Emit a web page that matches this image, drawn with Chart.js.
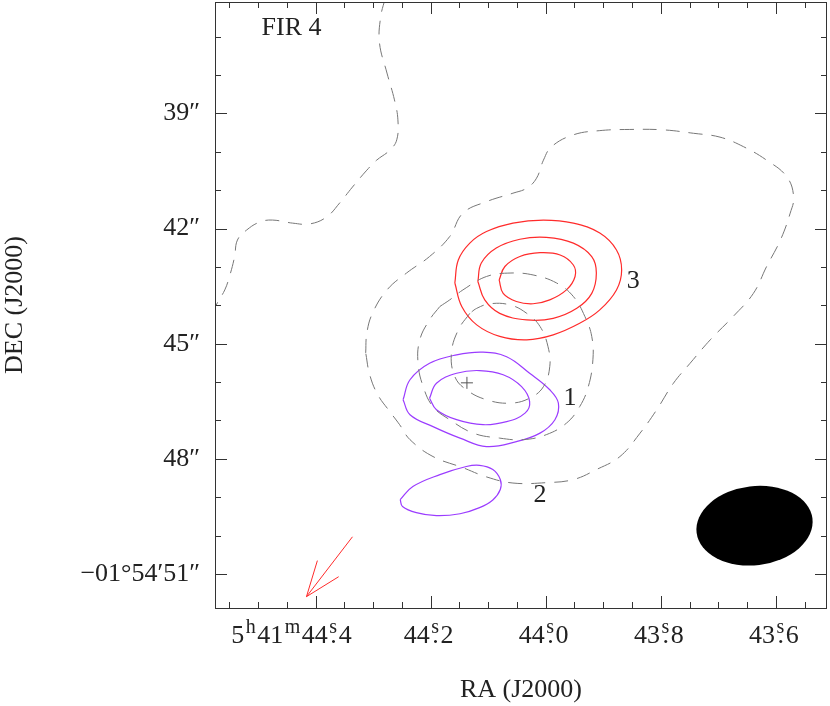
<!DOCTYPE html>
<html>
<head>
<meta charset="utf-8">
<script src="https://cdn.jsdelivr.net/npm/chart.js@4.4.0/dist/chart.umd.min.js"></script>
<style>
  html, body { margin: 0; padding: 0; background: #fff; }
  #map { display: block; }
</style>
</head>
<body>
<canvas id="map" width="830" height="706"></canvas>
<script>
// axes: RA in seconds of time (5h41m..), DEC in arcsec of -01d54m..
const raMin = 43.511, raMax = 44.575;
const decMin = 36.1, decMax = 51.885;
const raTicks = [44.4, 44.2, 44.0, 43.8, 43.6];
const raTickLabels = ['5^h41^m44^s.4', '44^s.2', '44^s.0', '43^s.8', '43^s.6'];
const decTicks = [39, 42, 45, 48, 51];
const decTickLabels = ['39″', '42″', '45″', '48″', '−01°54′51″'];

// dust / continuum contours (dashed grey), [RA s, DEC ″]
const dustA = [[44.279, 36.0], [44.287, 36.49], [44.289, 37.17], [44.276, 37.95], [44.263, 38.65],
  [44.257, 39.17], [44.259, 39.69], [44.271, 39.96], [44.294, 40.22], [44.311, 40.48],
  [44.336, 40.92], [44.358, 41.33], [44.381, 41.70], [44.410, 41.88], [44.440, 41.86],
  [44.475, 41.78], [44.497, 41.83], [44.520, 42.04], [44.536, 42.30], [44.541, 42.74],
  [44.550, 43.26], [44.558, 43.60], [44.571, 43.94], [44.581, 44.25]];
const dustB = [[44.313, 45.24], [44.311, 44.72], [44.301, 44.20], [44.276, 43.60], [44.242, 43.16],
  [44.202, 42.73], [44.167, 42.21], [44.144, 41.60], [44.103, 41.30], [44.057, 41.08],
  [44.033, 40.95], [44.016, 40.69], [44.004, 40.22], [43.990, 39.87], [43.952, 39.56],
  [43.906, 39.45], [43.854, 39.42], [43.796, 39.43], [43.743, 39.52], [43.697, 39.62],
  [43.656, 39.87], [43.616, 40.22], [43.581, 40.65], [43.569, 41.17], [43.575, 41.60],
  [43.592, 42.30], [43.616, 42.99], [43.639, 43.69], [43.674, 44.29], [43.714, 44.90],
  [43.749, 45.51], [43.778, 46.03], [43.807, 46.72], [43.836, 47.33], [43.871, 47.94],
  [43.912, 48.28], [43.952, 48.54], [43.999, 48.62], [44.057, 48.63], [44.103, 48.47],
  [44.144, 48.23], [44.196, 47.94], [44.236, 47.50], [44.254, 47.11], [44.271, 46.77],
  [44.292, 46.33], [44.306, 45.81], [44.313, 45.24]];
const dustC = [[44.184, 44.03], [44.202, 44.38], [44.219, 44.90], [44.222, 45.51], [44.213, 46.12],
  [44.196, 46.64], [44.167, 46.98], [44.126, 47.33], [44.080, 47.46], [44.039, 47.50],
  [43.999, 47.37], [43.964, 47.07], [43.941, 46.64], [43.926, 46.12], [43.918, 45.42],
  [43.920, 44.81], [43.932, 44.29], [43.952, 43.77], [43.981, 43.42], [44.022, 43.21],
  [44.062, 43.16], [44.103, 43.25], [44.144, 43.60], [44.167, 43.86], [44.184, 44.03]];
const dustD = [[44.132, 44.21], [44.152, 44.64], [44.164, 45.25], [44.158, 45.86], [44.138, 46.20],
  [44.103, 46.46], [44.062, 46.55], [44.028, 46.42], [44.004, 46.12], [43.993, 45.60],
  [43.996, 45.08], [44.010, 44.55], [44.033, 44.21], [44.062, 43.99], [44.097, 43.96],
  [44.120, 44.08], [44.132, 44.21]];

// source 3 (red)
const red1 = [[44.158, 43.42], [44.152, 42.82], [44.132, 42.38], [44.103, 42.08], [44.057, 41.86],
  [44.004, 41.78], [43.952, 41.86], [43.906, 42.12], [43.877, 42.56], [43.868, 43.08],
  [43.877, 43.60], [43.906, 44.12], [43.941, 44.47], [43.987, 44.77], [44.033, 44.90],
  [44.080, 44.81], [44.120, 44.51], [44.146, 44.03], [44.158, 43.42]];
const red2 = [[44.118, 43.38], [44.112, 42.90], [44.086, 42.51], [44.045, 42.28], [43.999, 42.23],
  [43.952, 42.38], [43.920, 42.73], [43.912, 43.16], [43.920, 43.69], [43.946, 44.08],
  [43.987, 44.34], [44.033, 44.38], [44.080, 44.21], [44.106, 43.86], [44.118, 43.38]];
const red3 = [[44.081, 43.34], [44.071, 42.99], [44.045, 42.73], [44.010, 42.63], [43.975, 42.69],
  [43.952, 42.95], [43.949, 43.25], [43.964, 43.60], [43.993, 43.86], [44.022, 43.96],
  [44.051, 43.90], [44.074, 43.69], [44.081, 43.34]];

// sources 1 and 2 (purple)
const pur1 = [[44.248, 46.46], [44.236, 45.94], [44.202, 45.51], [44.155, 45.29], [44.109, 45.22],
  [44.068, 45.34], [44.028, 45.77], [43.993, 46.20], [43.978, 46.55], [43.984, 46.98],
  [44.010, 47.33], [44.051, 47.55], [44.103, 47.68], [44.149, 47.46], [44.196, 47.16],
  [44.236, 46.85], [44.248, 46.46]];
const pur2 = [[44.202, 46.42], [44.190, 46.03], [44.155, 45.77], [44.115, 45.70], [44.074, 45.81],
  [44.042, 46.12], [44.028, 46.51], [44.036, 46.81], [44.068, 47.03], [44.109, 47.11],
  [44.155, 46.98], [44.190, 46.72], [44.202, 46.42]];
const pur3 = [[44.253, 49.06], [44.231, 48.72], [44.184, 48.41], [44.138, 48.20], [44.115, 48.17],
  [44.092, 48.28], [44.079, 48.54], [44.079, 48.80], [44.092, 49.07], [44.115, 49.27],
  [44.149, 49.43], [44.190, 49.48], [44.225, 49.40], [44.249, 49.24], [44.253, 49.06]];

const crossPos = [[44.137, 46.02]];
const arrowShaft = [[44.336, 50.03], [44.416, 51.59]];
const arrowHead = [[44.397, 50.65], [44.416, 51.59], [44.360, 51.07]];

const textLabels = [
  { t: 'FIR 4', ra: 44.494, dec: 36.78, align: 'left' },
  { t: '3', ra: 43.848, dec: 43.37, align: 'center' },
  { t: '1', ra: 43.958, dec: 46.41, align: 'center' },
  { t: '2', ra: 44.010, dec: 48.94, align: 'center' }
];
// synthesized beam: centre, semi-axes (″), tilt (deg, counter-clockwise)
const beam = { ra: 43.637, dec: 49.74, a: 1.52, b: 1.03, tilt: 7 };

const FONT = '"Liberation Serif", "DejaVu Serif", serif';
const INK = '#222';
const GREY = '#777';
const RED = '#ff2b2b';
const PURPLE = '#9b3cff';

const pts = arr => arr.map(p => ({ x: p[0], y: p[1] }));
const contour = (arr, color, dashed) => ({
  data: pts(arr),
  showLine: true,
  borderColor: color,
  borderWidth: dashed ? 1 : 1.2,
  borderDash: dashed ? [14, 9] : [],
  tension: 0.4,
  pointRadius: 0,
  fill: false
});

// text with ^x superscripts; a '.' right after a superscript sits under it
function drawRich(ctx, text, x, y, align) {
  const runs = [];
  for (let i = 0; i < text.length; i++) {
    const c = text[i];
    if (c === '^') { runs.push({ t: text[i + 1], sup: true }); i++; }
    else if (c === '.' && runs.length && runs[runs.length - 1].sup) runs.push({ t: '.', under: true });
    else runs.push({ t: c });
  }
  const mainF = '26px ' + FONT, supF = '20px ' + FONT;
  const gap = 1.5;
  let total = 0;
  runs.forEach(r => {
    ctx.font = r.sup ? supF : mainF;
    r.w = r.under ? 0 : ctx.measureText(r.t).width + (r.sup ? 2 * gap : 0);
    total += r.w;
  });
  let cx = align === 'right' ? x - total : x - total / 2;
  let lastSup = cx;
  runs.forEach(r => {
    if (r.under) {
      ctx.font = mainF;
      ctx.fillText('.', lastSup + 1, y);
      return;
    }
    ctx.font = r.sup ? supF : mainF;
    if (r.sup) { lastSup = cx + gap; ctx.fillText(r.t, cx + gap, y - 10); }
    else ctx.fillText(r.t, cx, y);
    cx += r.w;
  });
}

const framePlugin = {
  id: 'frame',
  afterDatasetsDraw(chart) {
    const { ctx, chartArea: a, scales: { x, y } } = chart;
    ctx.save();
    // beam
    const bx = x.getPixelForValue(beam.ra), by = y.getPixelForValue(beam.dec);
    const ppa = Math.abs(y.getPixelForValue(beam.dec + 1) - by);
    ctx.fillStyle = '#000';
    ctx.beginPath();
    ctx.ellipse(bx, by, beam.a * ppa, beam.b * ppa, -beam.tilt * Math.PI / 180, 0, 2 * Math.PI);
    ctx.fill();

    // frame and inward ticks
    ctx.strokeStyle = '#333';
    ctx.lineWidth = 1;
    ctx.strokeRect(a.left + 0.5, a.top + 0.5, a.right - a.left - 1, a.bottom - a.top);
    ctx.beginPath();
    for (let t = 871; t <= 891; t++) {
      const px = Math.round(x.getPixelForValue(t * 0.05)) + 0.5;
      const len = t % 4 === 0 ? 12 : 6;
      ctx.moveTo(px, a.bottom); ctx.lineTo(px, a.bottom - len);
      ctx.moveTo(px, a.top); ctx.lineTo(px, a.top + len);
    }
    for (let d = 37; d <= 51; d++) {
      const py = Math.round(y.getPixelForValue(d)) + 0.5;
      const len = d % 3 === 0 ? 12 : 6;
      ctx.moveTo(a.left, py); ctx.lineTo(a.left + len, py);
      ctx.moveTo(a.right, py); ctx.lineTo(a.right - len, py);
    }
    ctx.stroke();

    // RA labels
    ctx.fillStyle = INK;
    ctx.textBaseline = 'alphabetic';
    ctx.textAlign = 'left';
    raTicks.forEach((v, i) => {
      const px = x.getPixelForValue(v);
      if (i === 0) drawRich(ctx, raTickLabels[i], px + 36, a.bottom + 35, 'right');
      else drawRich(ctx, raTickLabels[i], px - 2, a.bottom + 35, 'center');
    });

    // source labels
    ctx.font = '26px ' + FONT;
    ctx.textBaseline = 'middle';
    textLabels.forEach(l => {
      ctx.textAlign = l.align;
      ctx.fillText(l.t, x.getPixelForValue(l.ra), y.getPixelForValue(l.dec));
    });
    ctx.restore();
  }
};

new Chart(document.getElementById('map'), {
  type: 'scatter',
  data: {
    datasets: [
      contour(dustA, GREY, true),
      contour(dustB, GREY, true),
      contour(dustC, GREY, true),
      contour(dustD, GREY, true),
      contour(red1, RED, false),
      contour(red2, RED, false),
      contour(red3, RED, false),
      contour(pur1, PURPLE, false),
      contour(pur2, PURPLE, false),
      contour(pur3, PURPLE, false),
      { data: pts(crossPos), pointStyle: 'cross', pointRadius: 6, borderColor: '#555', borderWidth: 1, showLine: false },
      { data: pts(arrowShaft), showLine: true, borderColor: RED, borderWidth: 1, pointRadius: 0, tension: 0 },
      { data: pts(arrowHead), showLine: true, borderColor: RED, borderWidth: 1, pointRadius: 0, tension: 0 }
    ]
  },
  options: {
    responsive: false,
    animation: false,
    layout: { autoPadding: false, padding: { top: 2, right: 3, left: 0, bottom: 0 } },
    plugins: { legend: { display: false }, tooltip: { enabled: false } },
    scales: {
      x: {
        type: 'linear', reverse: true, min: raMin, max: raMax,
        grid: { display: false, drawTicks: false },
        border: { display: false },
        ticks: { display: false },
        afterBuildTicks: s => { s.ticks = raTicks.map(v => ({ value: v })); },
        afterFit: s => { s.height = 98; s.paddingLeft = 0; s.paddingRight = 0; },
        title: { display: true, text: 'RA (J2000)', color: INK, font: { family: FONT, size: 26 }, padding: 0 }
      },
      y: {
        type: 'linear', reverse: true, min: decMin, max: decMax,
        grid: { display: false, drawTicks: false },
        border: { display: false },
        afterBuildTicks: s => { s.ticks = decTicks.map(v => ({ value: v })); },
        ticks: {
          padding: 15, color: INK, font: { family: FONT, size: 26 },
          callback: v => decTickLabels[decTicks.indexOf(v)]
        },
        afterFit: s => { s.width = 215; s.paddingTop = 0; s.paddingBottom = 0; },
        title: { display: true, text: 'DEC (J2000)', color: INK, font: { family: FONT, size: 26 }, padding: 0 }
      }
    }
  },
  plugins: [framePlugin]
});
</script>
</body>
</html>
